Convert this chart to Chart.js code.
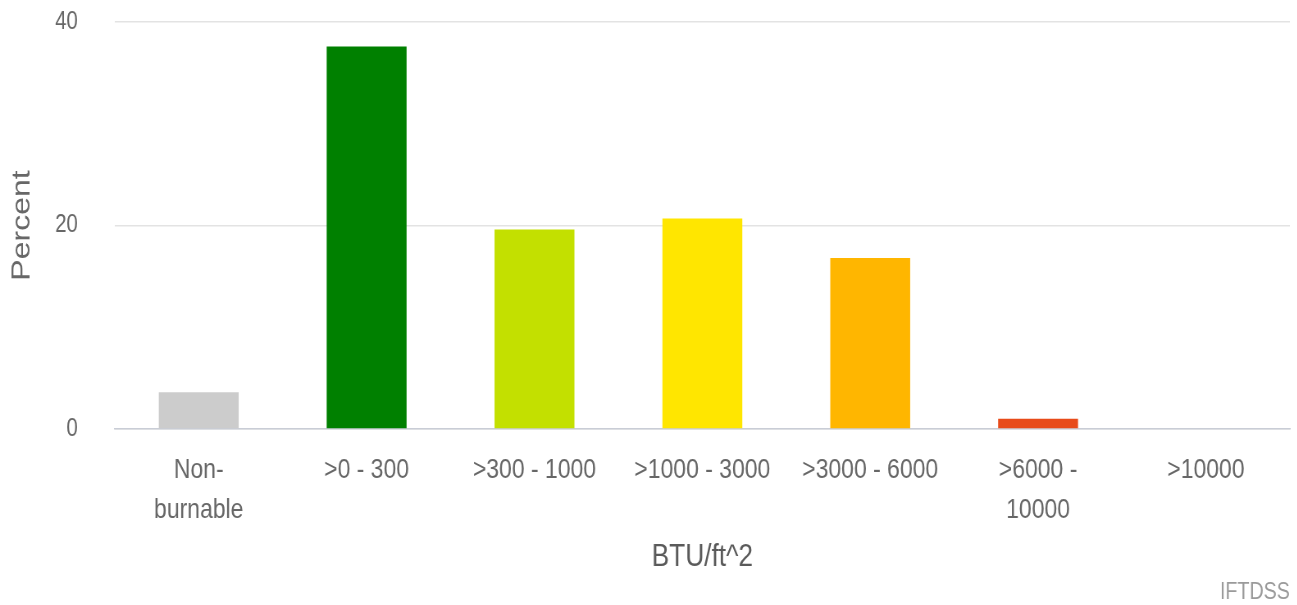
<!DOCTYPE html>
<html>
<head>
<meta charset="utf-8">
<script src="https://cdn.jsdelivr.net/npm/chart.js@4/dist/chart.umd.min.js"></script>
<style>
  html, body { margin: 0; padding: 0; background: #fff; overflow: hidden; }
  /* the source chart is squeezed horizontally, so draw it wide and squeeze it */
  #stage { width: 1582px; height: 605px; transform: scaleX(0.82); transform-origin: 0 0; }
</style>
</head>
<body>
<div id="stage">
  <canvas id="chart" width="1582" height="605"></canvas>
</div>
<script>
// BTU/ft^2 classes and share of area (percent)
const categories = [ 'Non-burnable', '>0 - 300', '>300 - 1000', '>1000 - 3000', '>3000 - 6000', '>6000 - 10000', '>10000' ]
const tickLabels = [ [ 'Non-', 'burnable' ], '>0 - 300', '>300 - 1000', '>1000 - 3000', '>3000 - 6000', [ '>6000 -', '10000' ], '>10000' ]
const percentValues = [ 3.6, 37.6, 19.6, 20.7, 16.8, 1.0, 0 ]
const barColors = [ '#cccccc', '#008000', '#c3e000', '#ffe600', '#ffb600', '#e84b1a', '#b00000' ]
const yTicks = [ 0, 20, 40 ]

const fontFamily = "'Liberation Sans', Arial, sans-serif"

// small "IFTDSS" credit in the bottom right corner
const creditPlugin = {
  id: 'credit',
  afterDraw: ( chart ) => {
    const c = chart.ctx
    c.save()
    c.font = '24px ' + fontFamily
    c.fillStyle = '#9a9a9a'
    c.textAlign = 'right'
    c.textBaseline = 'middle'
    c.fillText( 'IFTDSS', chart.chartArea.right, 592 )
    c.restore()
  }
}

const ctx = document.getElementById( 'chart' ).getContext( '2d' )

new Chart( ctx, {
  type: 'bar',
  data: {
    labels: tickLabels,
    datasets: [ {
      label: 'Percent',
      data: percentValues,
      backgroundColor: barColors,
      barPercentage: 0.476,
      categoryPercentage: 1
    } ]
  },
  options: {
    responsive: false,
    animation: false,
    layout: { padding: { top: 22, right: 9, bottom: 0, left: 0 } },
    plugins: {
      legend: { display: false },
      tooltip: { enabled: false }
    },
    scales: {
      x: {
        grid: { display: false, drawTicks: false },
        border: { display: true, color: '#c9cdd6', width: 1.5 },
        ticks: {
          color: '#676767',
          font: { family: fontFamily, size: 28, lineHeight: 1.43 },
          padding: 21,
          maxRotation: 0,
          autoSkip: false
        },
        title: {
          display: true,
          text: 'BTU/ft^2',
          color: '#5a5a5a',
          font: { family: fontFamily, size: 32 },
          padding: { top: 0, bottom: 29 }
        },
        afterFit: ( scale ) => {
          scale.height = 176
          scale.paddingLeft = 0
          scale.paddingRight = 0
        }
      },
      y: {
        min: 0,
        max: 40,
        grid: { color: '#e3e3e3', lineWidth: 1.5, drawTicks: false },
        border: { display: false },
        afterBuildTicks: ( scale ) => { scale.ticks = yTicks.map( v => ( { value: v } ) ) },
        ticks: {
          color: '#676767',
          font: { family: fontFamily, size: 25 },
          padding: 45
        },
        title: {
          display: true,
          text: 'Percent',
          color: '#676767',
          font: { family: fontFamily, size: 32 },
          padding: { top: 8, bottom: 0 }
        },
        afterFit: ( scale ) => {
          scale.width = 140
          scale.paddingTop = 0
          scale.paddingBottom = 0
        }
      }
    }
  },
  plugins: [ creditPlugin ]
})
</script>
</body>
</html>
